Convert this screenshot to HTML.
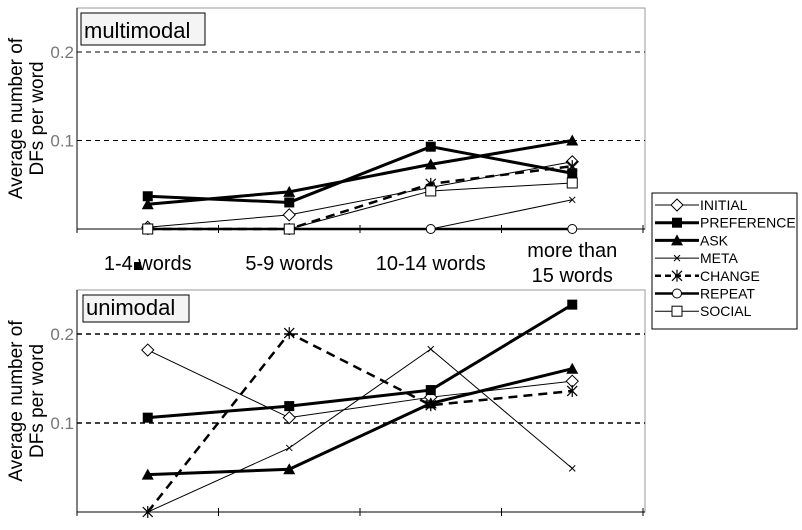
<!DOCTYPE html>
<html><head><meta charset="utf-8"><style>
body{margin:0;background:#fff;}
svg text{font-family:"Liberation Sans",Arial,sans-serif;}
</style></head><body>
<svg id="chart" width="802" height="525" viewBox="0 0 802 525" xmlns="http://www.w3.org/2000/svg">
<g id="static"></g>
</svg>
<script>
const categories = ["1-4 words","5-9 words","10-14 words","more than|15 words"];
const seriesNames = ["INITIAL","PREFERENCE","ASK","META","CHANGE","REPEAT","SOCIAL"];
const multiINITIAL = [0.002,0.016,0.047,0.076];
const multiPREFERENCE = [0.037,0.030,0.093,0.063];
const multiASK = [0.028,0.042,0.073,0.100];
const multiMETA = [0,0,0,0.033];
const multiCHANGE = [0,0,0.051,0.071];
const multiREPEAT = [0,0,0,0];
const multiSOCIAL = [0,0,0.043,0.052];
const uniINITIAL = [0.182,0.106,0.129,0.147];
const uniPREFERENCE = [0.106,0.119,0.137,0.233];
const uniASK = [0.042,0.048,0.122,0.161];
const uniMETA = [0,0.072,0.183,0.049];
const uniCHANGE = [0,0.201,0.120,0.136];
const yTicks = [0.1,0.2];
const yTickLabels = ["0.1","0.2"];

const NS="http://www.w3.org/2000/svg";
const svg=document.getElementById('chart');
function mk(tag,attrs,parent){const e=document.createElementNS(NS,tag);for(const k in attrs)e.setAttribute(k,attrs[k]);(parent||svg).appendChild(e);return e;}
const X0=77,X1=643;
function xs(i){return X0+(X1-X0)/categories.length*(i+0.5);}
const styles={
 INITIAL:{w:1,dash:null,m:'diamond'},
 PREFERENCE:{w:3,dash:null,m:'square'},
 ASK:{w:3,dash:null,m:'triangle'},
 META:{w:1,dash:null,m:'x'},
 CHANGE:{w:2.5,dash:'9,6',m:'star'},
 REPEAT:{w:2.5,dash:null,m:'circle'},
 SOCIAL:{w:1,dash:null,m:'opensquare'}
};
function marker(g,type,x,y){
 let e;
 if(type==='diamond'){e=mk('polygon',{points:`${x},${y-6} ${x+6},${y} ${x},${y+6} ${x-6},${y}`,fill:'#fff',stroke:'#000','stroke-width':1},g);}
 else if(type==='square'){e=mk('rect',{x:x-5,y:y-5,width:10,height:10,fill:'#000'},g);}
 else if(type==='opensquare'){e=mk('rect',{x:x-5,y:y-5,width:10,height:10,fill:'#fff',stroke:'#000','stroke-width':1},g);}
 else if(type==='triangle'){e=mk('polygon',{points:`${x},${y-6} ${x+6},${y+5} ${x-6},${y+5}`,fill:'#000'},g);}
 else if(type==='circle'){e=mk('circle',{cx:x,cy:y,r:4.5,fill:'#fff',stroke:'#000','stroke-width':1},g);}
 else if(type==='x'){e=mk('path',{d:`M${x-3},${y-3}L${x+3},${y+3}M${x-3},${y+3}L${x+3},${y-3}`,stroke:'#000','stroke-width':1,fill:'none'},g);}
 else {e=mk('path',{d:`M${x-5},${y-5}L${x+5},${y+5}M${x-5},${y+5}L${x+5},${y-5}M${x},${y-6}L${x},${y+6}`,stroke:'#000','stroke-width':1.2,fill:'none'},g);}
 
 
}
function panel(prefix,top,zeroY,per,data,title,tbox){
 const ys=v=>zeroY-v*per;
 const frame=mk('rect',{x:X0,y:top,width:X1-X0+2,height:zeroY-top,fill:'none',stroke:'#999','stroke-width':1});
 
 
 yTicks.forEach((t,i)=>{
  const l=mk('line',{x1:X0,x2:X1+2,y1:ys(t),y2:ys(t),stroke:'#000','stroke-width':prefix==='unimodal'?1.5:1,'stroke-dasharray':'5,4'});
  
  
  const tx=mk('text',{x:X0-3,y:ys(t)+6,'text-anchor':'end','font-size':17,fill:'#777'});
  tx.textContent=yTickLabels[i];
  
  
 });
 const ax=mk('line',{x1:X0,x2:X1+2,y1:zeroY,y2:zeroY,stroke:'#000','stroke-width':1});
 
 
 const ya=mk('line',{x1:X0,x2:X0,y1:top,y2:zeroY,stroke:'#000','stroke-width':1});
 
 
 for(let i=0;i<=categories.length;i++){
  const x=X0+(X1-X0)/categories.length*i;
  const tk=mk('line',{x1:x,x2:x,y1:zeroY-4,y2:zeroY+4,stroke:'#000'});
  
  
 }
 seriesNames.forEach(name=>{
  const vals=data[name]; if(!vals) return;
  const st=styles[name];
  const g=mk('g',{});
  
  
  const pts=vals.map((v,i)=>xs(i)+','+ys(v)).join(' ');
  const pl=mk('polyline',{points:pts,fill:'none',stroke:'#000','stroke-width':st.w},g);
  if(st.dash)pl.setAttribute('stroke-dasharray',st.dash);
  
  
  vals.forEach((v,i)=>marker(g,st.m,xs(i),ys(v)));
 });
 const tb=mk('rect',{x:tbox[0],y:tbox[1],width:tbox[2],height:tbox[3],fill:'#f4f4f4',stroke:'#000'});
 
 
 const tt=mk('text',{x:tbox[0]+3,y:tbox[1]+tbox[3]-7,'font-size':22});
 tt.textContent=title;
 
 
 const cy=(top+zeroY)/2;
 const yt=mk('text',{transform:`translate(22,${cy}) rotate(-90)`,'text-anchor':'middle','font-size':19});
 
 
 const a=mk('tspan',{x:0,dy:0},yt);a.textContent='Average number of';
 const b=mk('tspan',{x:0,dy:21},yt);b.textContent='DFs per word';
}
panel('multimodal',8,229,885,{INITIAL:multiINITIAL,PREFERENCE:multiPREFERENCE,ASK:multiASK,META:multiMETA,CHANGE:multiCHANGE,REPEAT:multiREPEAT,SOCIAL:multiSOCIAL},'multimodal',[81,13,124,32]);
panel('unimodal',290,512,890,{INITIAL:uniINITIAL,PREFERENCE:uniPREFERENCE,ASK:uniASK,META:uniMETA,CHANGE:uniCHANGE},'unimodal',[83,295,106,27]);
categories.forEach((c,i)=>{
 const parts=c.split('|');
 const t=mk('text',{x:xs(i),y:parts.length>1?257:270,'text-anchor':'middle','font-size':20});
 
 
 parts.forEach((p,j)=>{const s=mk('tspan',{x:xs(i),dy:j?25:0},t);s.textContent=p;});
});
const art=mk('rect',{x:134,y:262,width:7,height:8,fill:'#000'});


// legend
const lg=mk('g',{});


const lb=mk('rect',{x:652,y:193,width:145,height:136,fill:'#fff',stroke:'#000'},lg);


seriesNames.forEach((n,i)=>{
 const y=205+i*17.7;
 const st=styles[n];
 const e=mk('g',{},lg);
 
 
 const l=mk('line',{x1:655,x2:699,y1:y,y2:y,stroke:'#000','stroke-width':st.w},e);
 if(st.dash)l.setAttribute('stroke-dasharray','6,4');
 marker(e,st.m,677,y);
 const t=mk('text',{x:700,y:y+5,'font-size':14},e);
 t.textContent=n;
});
</script>
</body></html>
